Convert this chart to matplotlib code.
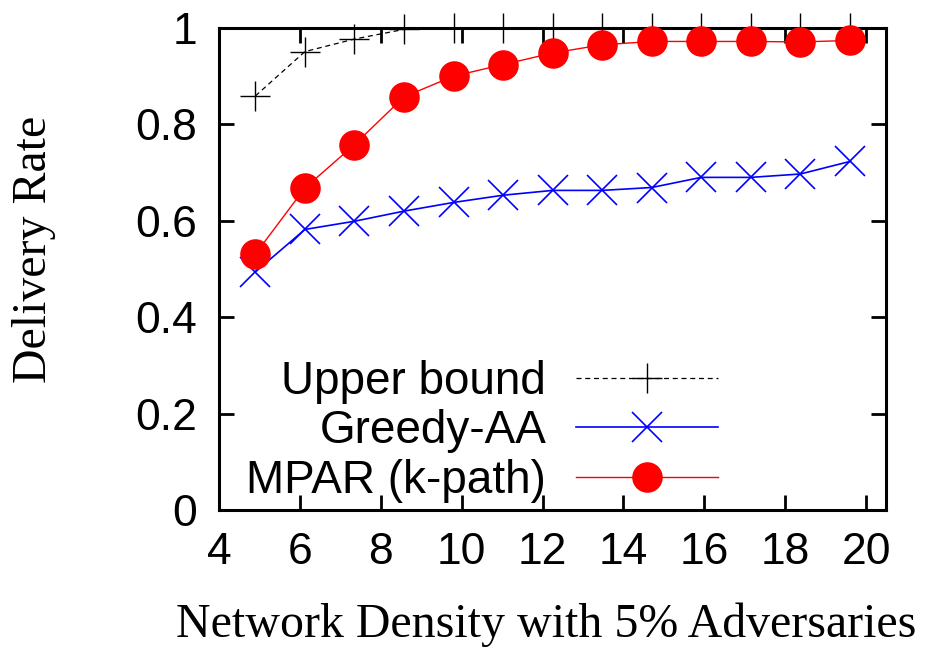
import numpy as np
import matplotlib
matplotlib.use("Agg")
import matplotlib.pyplot as plt

# network density (x) and delivery rate for each scheme
density = [4.9, 6.125, 7.35, 8.575, 9.8, 11.025, 12.25, 13.475, 14.7, 15.925, 17.15, 18.375, 19.6]
upper_bound = [0.859, 0.951, 0.977, 0.997, 1.0, 1.0, 1.0, 1.0, 1.0, 1.0, 1.0, 1.0, 1.0]
greedy_aa = [0.494, 0.582, 0.599, 0.620, 0.638, 0.653, 0.663, 0.663, 0.669, 0.690, 0.690, 0.697, 0.723]
mpar = [0.531, 0.668, 0.758, 0.857, 0.900, 0.924, 0.948, 0.965, 0.972, 0.972, 0.972, 0.971, 0.974]

xticks = [4, 6, 8, 10, 12, 14, 16, 18, 20]
yticks = [0, 0.2, 0.4, 0.6, 0.8, 1.0]
ytick_labels = ["0", "0.2", "0.4", "0.6", "0.8", "1"]

sans = "Liberation Sans"
serif = "Liberation Serif"

fig = plt.figure(figsize=(9.28, 6.5), dpi=100)
ax = fig.add_axes([0.236, 0.2154, 0.719, 0.7416])

ax.plot(density, upper_bound, color="black", lw=0.9, ls=(0, (4, 3)),
        marker="+", ms=22, mew=1.0, label="Upper bound", clip_on=False, zorder=3)
ax.plot(density, greedy_aa, color="#0000ff", lw=1.2,
        marker="x", ms=22, mew=1.2, label="Greedy-AA", clip_on=False, zorder=4)
ax.plot(density, mpar, color="#ff0000", lw=1.0,
        marker="o", ms=22, mew=0, label="MPAR (k-path)", clip_on=False, zorder=5)

ax.set_xlim(4, 20.5)
ax.set_ylim(0, 1)
ax.set_xticks(xticks)
ax.set_yticks(yticks)
ax.set_yticklabels(ytick_labels)

for s in ax.spines.values():
    s.set_linewidth(2.2)
    s.set_zorder(2)
ax.tick_params(direction="in", length=11, width=2, top=True, right=True,
               labelsize=32, pad=16)
for lab in ax.get_xticklabels() + ax.get_yticklabels():
    lab.set_fontfamily(sans)

ax.set_xlabel("Network Density with 5% Adversaries", fontfamily=serif,
              fontsize=34.5, va="center")
ax.set_ylabel("Delivery Rate", fontfamily=serif, fontsize=34.5, va="center")
ax.xaxis.set_label_coords(0.49, -0.239)
ax.yaxis.set_label_coords(-0.277, 0.54)

leg = ax.legend(loc="lower right", bbox_to_anchor=(0.748, 0.015),
                markerfirst=False, frameon=False, handlelength=3.1,
                handletextpad=0.65, labelspacing=0.12, borderpad=0,
                borderaxespad=0, prop={"family": sans, "size": 33})

fig.savefig("out.png", dpi=100)
